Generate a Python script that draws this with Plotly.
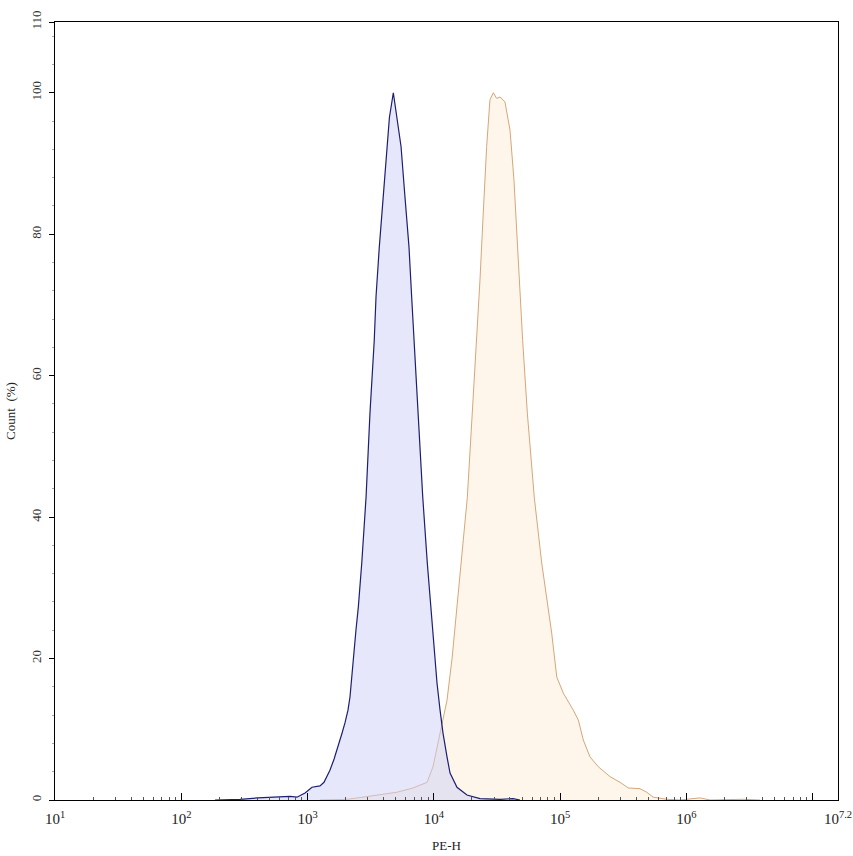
import plotly.graph_objects as go

# PE-H positions stored as log10 exponents; Count (%) values
blue_log = [2.267, 2.465, 2.607, 2.742, 2.861, 2.916, 2.980, 3.035, 3.098, 3.130,
            3.177, 3.210, 3.241, 3.272, 3.296, 3.320, 3.336, 3.360, 3.383, 3.402,
            3.429, 3.463, 3.494, 3.528, 3.542, 3.568, 3.600, 3.626, 3.648, 3.679,
            3.704, 3.740, 3.771, 3.803, 3.824, 3.843, 3.874, 3.912, 3.948, 3.975,
            3.993, 4.025, 4.049, 4.072, 4.104, 4.128, 4.183, 4.262, 4.365, 4.524,
            4.627, 4.682]
blue_count = [0.0, 0.1, 0.3, 0.35, 0.5, 0.4, 1.0, 1.8, 2.0, 2.5,
              4.2, 5.8, 7.5, 9.4, 10.9, 12.7, 14.6, 19.8, 24.0, 27.3,
              33.5, 42.8, 54.7, 65.0, 71.2, 78.2, 85.3, 92.4, 96.5, 100.0,
              97.0, 92.4, 85.3, 78.2, 71.2, 65.0, 54.7, 42.8, 33.5, 27.3,
              22.6, 16.5, 12.7, 9.5, 6.1, 3.8, 1.8, 0.7, 0.2, 0.1,
              0.2, 0.0]

orange_log = [3.098, 3.312, 3.439, 3.573, 3.708, 3.835, 3.946, 3.993, 4.049, 4.104,
              4.144, 4.181, 4.213, 4.265, 4.304, 4.339, 4.365, 4.391, 4.418, 4.444,
              4.471, 4.497, 4.524, 4.563, 4.603, 4.634, 4.661, 4.690, 4.703, 4.740,
              4.795, 4.854, 4.893, 4.933, 4.973, 5.025, 5.104, 5.144, 5.183, 5.236,
              5.302, 5.395, 5.474, 5.540, 5.632, 5.685, 5.737, 5.844, 5.949, 6.028,
              6.107, 6.187, 6.321, 6.448, 6.582]
orange_count = [0.0, 0.1, 0.4, 0.7, 1.1, 1.7, 2.5, 4.7, 9.5, 14.1,
                20.0, 27.3, 33.5, 42.8, 54.7, 65.0, 73.5, 83.0, 92.4, 99.0,
                100.0, 99.2, 99.4, 98.7, 94.7, 87.7, 78.2, 68.8, 65.0, 54.7,
                42.8, 33.5, 28.3, 23.6, 17.4, 15.1, 12.7, 11.3, 8.5, 6.1,
                4.7, 3.3, 2.5, 1.7, 1.6, 1.1, 0.4, 0.1, 0.0, 0.1,
                0.3, 0.0, 0.05, 0.1, 0.0]

x_tick_exps = [1, 2, 3, 4, 5, 6, 7, 7.2]
x_tick_text = ["10<sup>1</sup>", "10<sup>2</sup>", "10<sup>3</sup>", "10<sup>4</sup>",
               "10<sup>5</sup>", "10<sup>6</sup>", "", "10<sup>7.2</sup>"]
y_tick_vals = [0, 20, 40, 60, 80, 100, 110]

blue_x = [10 ** e for e in blue_log]
orange_x = [10 ** e for e in orange_log]
x_tick_vals = [10 ** e for e in x_tick_exps]
minor_vals = [m * 10 ** d for d in range(1, 7) for m in range(2, 10)]

FONT = "Liberation Serif, Times New Roman, serif"

fig = go.Figure()
fig.add_trace(go.Scatter(
    x=orange_x, y=orange_count, mode="lines", fill="tozeroy",
    line=dict(color="#d6a678", width=1),
    fillcolor="rgba(255,238,218,0.55)", showlegend=False))
fig.add_trace(go.Scatter(
    x=blue_x, y=blue_count, mode="lines", fill="tozeroy",
    line=dict(color="#1c1f6e", width=1.2),
    fillcolor="rgba(205,208,248,0.5)", showlegend=False))

fig.update_layout(
    width=853, height=856,
    margin=dict(l=55, r=15, t=22, b=56, autoexpand=False),
    paper_bgcolor="white", plot_bgcolor="white",
    font=dict(family=FONT, color="#222", size=12),
    showlegend=False,
)
fig.update_xaxes(
    type="log", range=[1, 7.2], automargin=False,
    tickvals=x_tick_vals, ticktext=x_tick_text,
    ticks="inside", ticklen=7, tickwidth=1, tickcolor="black",
    ticklabelstandoff=5,
    showline=True, linecolor="black", linewidth=1, mirror=True,
    showgrid=False, zeroline=False,
    tickfont=dict(family=FONT, size=15, color="#222"),
    minor=dict(tickvals=minor_vals, ticks="inside", ticklen=3, tickcolor="#555", showgrid=False),
    title=dict(text="PE-H", font=dict(family=FONT, size=13, color="#222"), standoff=14),
)
fig.update_yaxes(
    range=[0, 110], tickvals=y_tick_vals, automargin=False,
    ticks="outside", ticklen=5, tickwidth=1, tickcolor="black",
    tickangle=-90, ticklabelstandoff=3,
    showline=True, linecolor="black", linewidth=1, mirror=True,
    showgrid=False, zeroline=False,
    tickfont=dict(family=FONT, size=13, color="#333"),
    minor=dict(tick0=0, dtick=4, ticks="outside", ticklen=2, tickcolor="#aaa", showgrid=False),
    title=dict(text="Count  (%)", font=dict(family=FONT, size=13, color="#222"), standoff=10),
)

fig.write_html(
    "out.html",
    config={"displayModeBar": False},
    post_script="document.body.style.margin='0';document.body.style.overflow='hidden';",
)
